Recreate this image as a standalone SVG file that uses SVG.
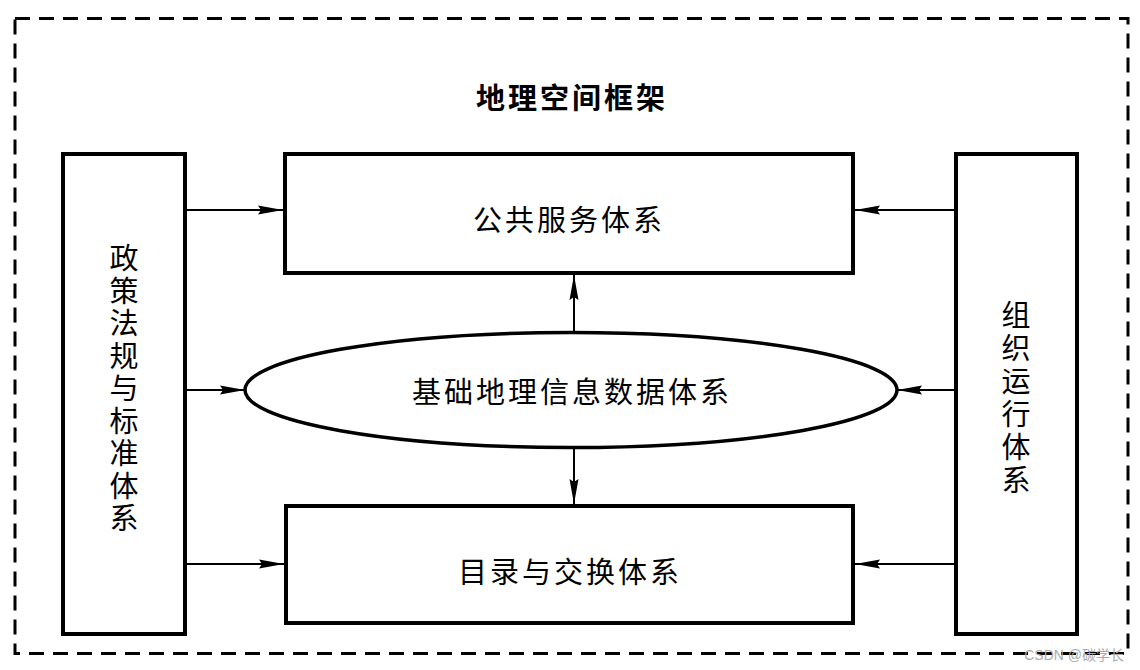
<svg xmlns="http://www.w3.org/2000/svg" width="1140" height="670" viewBox="0 0 1140 670">
<style>
.box{fill:#fff;stroke:#000;stroke-width:4}
.lbl{font-family:"Noto Sans CJK SC","Noto Sans CJK TC",sans-serif;font-size:29px;fill:#000;text-anchor:middle;dominant-baseline:central}
.vert{writing-mode:vertical-rl;text-orientation:upright}
.conn{stroke:#000;stroke-width:2;fill:none}
</style>
<defs>
<marker id="ah" markerWidth="26" markerHeight="12" refX="25" refY="6" orient="auto" markerUnits="userSpaceOnUse">
<path d="M0,1.5 L25,6 L0,10.5 L3,6 Z" fill="#000"/>
</marker>
</defs>
<rect x="15" y="18.5" width="1113" height="635" fill="none" stroke="#000" stroke-width="3" stroke-dasharray="15 9"/>
<g id="title"><text class="lbl" x="572" y="96" font-weight="bold" letter-spacing="3">地理空间框架</text></g>
<g id="policy">
<rect class="box" x="63" y="154" width="122" height="480"/>
<text class="lbl vert" x="124" y="390" letter-spacing="3.5">政策法规与标准体系</text>
</g>
<g id="public">
<rect class="box" x="285" y="154" width="568" height="119"/>
<text class="lbl" x="569" y="218" letter-spacing="3">公共服务体系</text>
</g>
<g id="basic">
<ellipse cx="571" cy="390" rx="326" ry="57.5" fill="#fff" stroke="#000" stroke-width="3.5"/>
<text class="lbl" x="572" y="390" letter-spacing="3">基础地理信息数据体系</text>
</g>
<g id="catalog">
<rect class="box" x="286" y="506" width="567" height="117"/>
<text class="lbl" x="570" y="570" letter-spacing="3">目录与交换体系</text>
</g>
<g id="org">
<rect class="box" x="956" y="154" width="121" height="480"/>
<text class="lbl vert" x="1016" y="399" letter-spacing="4">组织运行体系</text>
</g>
<g id="connectors">
<line class="conn" x1="187" y1="210" x2="283" y2="210" marker-end="url(#ah)"/>
<line class="conn" x1="187" y1="390" x2="245" y2="390" marker-end="url(#ah)"/>
<line class="conn" x1="187" y1="564" x2="284" y2="564" marker-end="url(#ah)"/>
<line class="conn" x1="954" y1="210" x2="855" y2="210" marker-end="url(#ah)"/>
<line class="conn" x1="954" y1="390" x2="897" y2="390" marker-end="url(#ah)"/>
<line class="conn" x1="954" y1="564" x2="855" y2="564" marker-end="url(#ah)"/>
<line class="conn" x1="574" y1="332" x2="574" y2="275" marker-end="url(#ah)"/>
<line class="conn" x1="574" y1="448" x2="574" y2="504" marker-end="url(#ah)"/>
</g>
<text x="1124" y="660" font-family="'Liberation Sans','Noto Sans CJK SC',sans-serif" font-size="14" fill="#aaa" text-anchor="end">CSDN @碳学长</text>
</svg>
